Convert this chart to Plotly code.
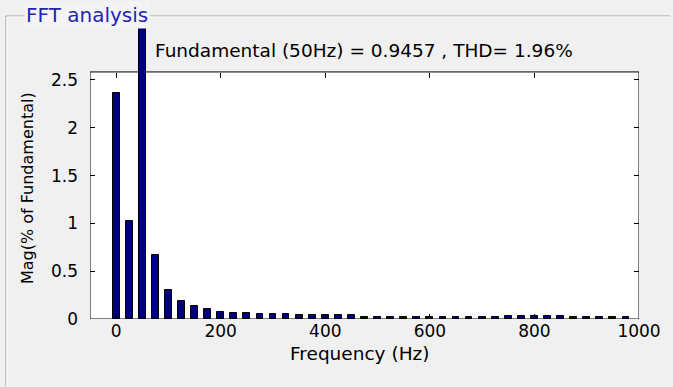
import plotly.graph_objects as go

# ---- data ----
freq_hz = [0, 25, 50, 75, 100, 125, 150, 175, 200, 225,
           250, 275, 300, 325, 350, 375, 400, 425, 450, 475,
           500, 525, 550, 575, 600, 625, 650, 675, 700, 725,
           750, 775, 800, 825, 850, 875, 900, 925, 950, 975]
mag_pct = [2.36, 1.03, 100.0, 0.665, 0.306, 0.184, 0.132, 0.104, 0.075, 0.063,
           0.063, 0.05, 0.05, 0.05, 0.038, 0.038, 0.04, 0.038, 0.038, 0.02,
           0.02, 0.02, 0.02, 0.02, 0.02, 0.02, 0.02, 0.02, 0.022, 0.025,
           0.028, 0.03, 0.03, 0.028, 0.028, 0.02, 0.02, 0.02, 0.02, 0.02]
x_ticks = [0, 200, 400, 600, 800, 1000]
y_ticks = [0, 0.5, 1, 1.5, 2, 2.5]
y_ticktext = ["0", "0.5", "1", "1.5", "2", "2.5"]
title_text = "Fundamental (50Hz) = 0.9457 , THD= 1.96%"
panel_title = "FFT analysis"
x_title = "Frequency (Hz)"
y_title = "Mag(% of Fundamental)"

# ---- layout geometry ----
W, H = 673, 387
ML, MR, MT, MB = 90, 31, 27, 67.5
PW = W - ML - MR
PH = H - MT - MB
XR = [-50, 1000]
YR = [0, 3.054]
FRAME_TOP = 2.584
FONT = "DejaVu Sans"


def px(xp):
    return (xp - ML) / PW


def py(yp):
    return (H - MB - yp) / PH


fig = go.Figure()
fig.add_trace(go.Bar(
    x=freq_hz, y=mag_pct, width=13,
    marker=dict(color="#00007f", line=dict(color="black", width=1)),
    showlegend=False, hoverinfo="x+y",
))
fig.add_trace(go.Scatter(x=[None], y=[None], xaxis="x2", yaxis="y2",
                         showlegend=False, hoverinfo="skip"))

axis_common = dict(showgrid=False, zeroline=False, showline=False,
                   ticks="inside", ticklen=5, tickcolor="black", tickwidth=1)

fig.update_layout(
    width=W, height=H, autosize=False,
    margin=dict(l=ML, r=MR, t=MT, b=MB, pad=0),
    paper_bgcolor="#f0f0f0", plot_bgcolor="rgba(0,0,0,0)",
    bargap=0,
    xaxis=dict(range=XR, tickvals=x_ticks, anchor="y",
               tickfont=dict(family=FONT, size=17, color="black"),
               **axis_common),
    xaxis2=dict(range=XR, tickvals=x_ticks, overlaying="x", side="top",
                anchor="free", position=py(72), showticklabels=False,
                **axis_common),
    yaxis=dict(range=YR, tickvals=y_ticks, ticktext=y_ticktext, anchor="x",
               tickfont=dict(family=FONT, size=17, color="black"),
               ticklabelstandoff=11, **axis_common),
    yaxis2=dict(range=YR, tickvals=y_ticks, overlaying="y", side="right",
                anchor="x", showticklabels=False, **axis_common),
    shapes=[
        # white axes box
        dict(type="rect", xref="x", yref="y", x0=XR[0], x1=XR[1], y0=0, y1=FRAME_TOP,
             fillcolor="white", line=dict(color="black", width=1), layer="below"),
        # panel etched border
        dict(type="line", xref="paper", yref="paper", x0=px(5), x1=px(673), y0=py(16), y1=py(16),
             line=dict(color="#a0a0a0", width=1)),
        dict(type="line", xref="paper", yref="paper", x0=px(6), x1=px(673), y0=py(17), y1=py(17),
             line=dict(color="white", width=1)),
        dict(type="line", xref="paper", yref="paper", x0=px(5.5), x1=px(5.5), y0=py(16), y1=py(387),
             line=dict(color="#a0a0a0", width=1)),
        dict(type="line", xref="paper", yref="paper", x0=px(6.5), x1=px(6.5), y0=py(17), y1=py(387),
             line=dict(color="white", width=1)),
    ],
    annotations=[
        dict(text=panel_title, xref="paper", yref="paper", x=px(24), y=py(15),
             xanchor="left", yanchor="middle", showarrow=False,
             font=dict(family=FONT, size=20, color="#2424b4"), bgcolor="#f4f4f4"),
        dict(text=title_text, xref="paper", yref="paper", x=px(365), y=py(51),
             xanchor="center", yanchor="middle", showarrow=False,
             font=dict(family=FONT, size=18.5, color="black")),
        dict(text=x_title, xref="paper", yref="paper", x=px(361), y=py(354),
             xanchor="center", yanchor="middle", showarrow=False,
             font=dict(family=FONT, size=18.5, color="black")),
        dict(text=y_title, xref="paper", yref="paper", x=px(27), y=py(188),
             xanchor="center", yanchor="middle", showarrow=False, textangle=-90,
             font=dict(family=FONT, size=16, color="black")),
    ],
)

fig.write_html("out.html")
